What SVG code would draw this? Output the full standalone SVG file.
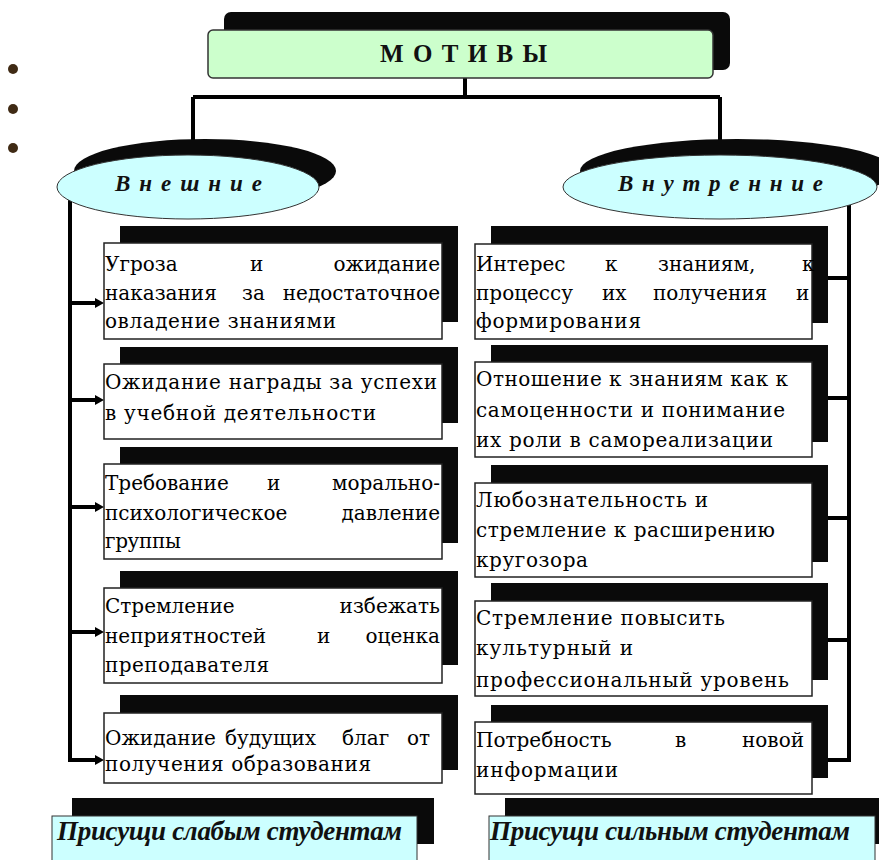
<svg xmlns="http://www.w3.org/2000/svg" width="879" height="860" viewBox="0 0 879 860">
<defs>
<marker id="arr" markerUnits="userSpaceOnUse" markerWidth="10" markerHeight="10" refX="1" refY="5" orient="auto">
<path d="M0,0 L9,5 L0,10 z" fill="#000"/>
</marker>
<style>
.sh{fill:#0a0a0a}
.box{fill:#fff;stroke:#222;stroke-width:1.5}
.ell{fill:#ccffff;stroke:#333;stroke-width:1}
.lbl{fill:#ccffff;stroke:#333;stroke-width:1}
.t{font-family:"DejaVu Serif","Liberation Serif",serif;font-size:20px;fill:#000}
.e{text-anchor:end}
.hd{font-family:"Liberation Serif",serif;font-weight:bold;font-style:italic;fill:#111}
.ti{font-family:"Liberation Serif",serif;font-weight:bold;font-size:25px;fill:#111}
.c{stroke:#000;stroke-width:4;fill:none}
.bul{fill:#3f2a14}
</style>
</defs>
<rect width="879" height="860" fill="#fff"/>

<g id="bullets">
<circle class="bul" cx="13" cy="69" r="5"/>
<circle class="bul" cx="13" cy="109" r="5"/>
<circle class="bul" cx="13" cy="148" r="5"/>
</g>

<g id="connectors">
<path class="c" d="M465,78 V97 M193,97 H720 M193,97 V165 M720,97 V165"/>
<path class="c" d="M70,195 V760 H96"/>
<line class="c" x1="70" y1="303" x2="96" y2="303" marker-end="url(#arr)"/>
<line class="c" x1="70" y1="400" x2="96" y2="400" marker-end="url(#arr)"/>
<line class="c" x1="70" y1="507" x2="96" y2="507" marker-end="url(#arr)"/>
<line class="c" x1="70" y1="632" x2="96" y2="632" marker-end="url(#arr)"/>
<line class="c" x1="92" y1="760" x2="96" y2="760" marker-end="url(#arr)"/>
<path class="c" d="M849,195 V760 H815"/>
<line class="c" x1="849" y1="278" x2="815" y2="278"/>
<line class="c" x1="849" y1="398" x2="815" y2="398"/>
<line class="c" x1="849" y1="518" x2="815" y2="518"/>
<line class="c" x1="849" y1="640" x2="815" y2="640"/>
</g>

<g id="title">
<rect class="sh" x="224" y="12" width="506" height="58" rx="7"/>
<rect x="208" y="30" width="505" height="48" rx="5" fill="#ccffcc" stroke="#333" stroke-width="1.5"/>
<text class="ti" x="380" y="62" textLength="167" lengthAdjust="spacing">МОТИВЫ</text>
</g>

<g id="external">
<ellipse class="sh" cx="205" cy="171" rx="131" ry="32"/>
<ellipse class="ell" cx="188" cy="187" rx="131" ry="32"/>
<text class="hd" x="115" y="191" font-size="23" textLength="147" lengthAdjust="spacing">Внешние</text>
</g>

<g id="internal">
<ellipse class="sh" cx="737" cy="171" rx="157" ry="32"/>
<ellipse class="ell" cx="720" cy="187" rx="157" ry="32"/>
<text class="hd" x="618" y="191" font-size="23" textLength="205" lengthAdjust="spacing">Внутренние</text>
</g>

<g id="ext1">
<rect class="sh" x="120" y="226" width="338" height="96"/>
<rect class="box" x="104" y="243" width="338" height="96"/>
<text class="t" y="271"><tspan x="105">Угроза</tspan><tspan x="250">и</tspan><tspan x="440" class="e">ожидание</tspan></text>
<text class="t" y="300"><tspan x="105">наказания</tspan><tspan x="242">за</tspan><tspan x="440" class="e">недостаточное</tspan></text>
<text class="t" x="105" y="328" textLength="231" lengthAdjust="spacing">овладение знаниями</text>
</g>

<g id="ext2">
<rect class="sh" x="120" y="347" width="338" height="76"/>
<rect class="box" x="104" y="364" width="338" height="75"/>
<text class="t" x="105" y="389" textLength="332" lengthAdjust="spacing">Ожидание награды за успехи</text>
<text class="t" x="105" y="420" textLength="271" lengthAdjust="spacing">в учебной деятельности</text>
</g>

<g id="ext3">
<rect class="sh" x="120" y="447" width="338" height="96"/>
<rect class="box" x="104" y="464" width="338" height="95"/>
<text class="t" y="490"><tspan x="105">Требование</tspan><tspan x="267">и</tspan><tspan x="440" class="e">морально-</tspan></text>
<text class="t" y="520"><tspan x="105">психологическое</tspan><tspan x="440" class="e">давление</tspan></text>
<text class="t" x="105" y="548" textLength="76" lengthAdjust="spacing">группы</text>
</g>

<g id="ext4">
<rect class="sh" x="120" y="571" width="338" height="94"/>
<rect class="box" x="104" y="588" width="338" height="95"/>
<text class="t" y="613"><tspan x="105">Стремление</tspan><tspan x="440" class="e">избежать</tspan></text>
<text class="t" y="643"><tspan x="105">неприятностей</tspan><tspan x="317">и</tspan><tspan x="440" class="e">оценка</tspan></text>
<text class="t" x="105" y="672" textLength="164" lengthAdjust="spacing">преподавателя</text>
</g>

<g id="ext5">
<rect class="sh" x="120" y="695" width="338" height="75"/>
<rect class="box" x="104" y="713" width="338" height="70"/>
<text class="t" y="745"><tspan x="105">Ожидание</tspan><tspan x="225">будущих</tspan><tspan x="342">благ</tspan><tspan x="430" class="e">от</tspan></text>
<text class="t" x="105" y="771" textLength="266" lengthAdjust="spacing">получения образования</text>
</g>

<g id="int1">
<rect class="sh" x="491" y="226" width="337" height="97"/>
<rect class="box" x="475" y="244" width="337" height="95"/>
<text class="t" y="271"><tspan x="476">Интерес</tspan><tspan x="605">к</tspan><tspan x="658">знаниям,</tspan><tspan x="802">к</tspan></text>
<text class="t" y="300"><tspan x="476">процессу</tspan><tspan x="602">их</tspan><tspan x="653">получения</tspan><tspan x="796">и</tspan></text>
<text class="t" x="476" y="328" textLength="165" lengthAdjust="spacing">формирования</text>
</g>

<g id="int2">
<rect class="sh" x="491" y="345" width="337" height="97"/>
<rect class="box" x="475" y="362" width="337" height="95"/>
<text class="t" x="476" y="386" textLength="312" lengthAdjust="spacing">Отношение к знаниям как к</text>
<text class="t" x="476" y="417" textLength="309" lengthAdjust="spacing">самоценности и понимание</text>
<text class="t" x="476" y="447" textLength="297" lengthAdjust="spacing">их роли в самореализации</text>
</g>

<g id="int3">
<rect class="sh" x="491" y="465" width="337" height="97"/>
<rect class="box" x="475" y="483" width="337" height="94"/>
<text class="t" x="476" y="507" textLength="232" lengthAdjust="spacing">Любознательность и</text>
<text class="t" x="476" y="537" textLength="299" lengthAdjust="spacing">стремление к расширению</text>
<text class="t" x="476" y="567" textLength="112" lengthAdjust="spacing">кругозора</text>
</g>

<g id="int4">
<rect class="sh" x="491" y="583" width="337" height="97"/>
<rect class="box" x="475" y="601" width="337" height="95"/>
<text class="t" x="476" y="625" textLength="249" lengthAdjust="spacing">Стремление повысить</text>
<text class="t" x="476" y="655" textLength="157" lengthAdjust="spacing">культурный и</text>
<text class="t" x="476" y="687" textLength="313" lengthAdjust="spacing">профессиональный уровень</text>
</g>

<g id="int5">
<rect class="sh" x="491" y="705" width="337" height="73"/>
<rect class="box" x="475" y="722" width="337" height="72"/>
<text class="t" y="747"><tspan x="476">Потребность</tspan><tspan x="675">в</tspan><tspan x="742">новой</tspan></text>
<text class="t" x="476" y="777" textLength="142" lengthAdjust="spacing">информации</text>
</g>

<g id="weak">
<rect class="sh" x="72" y="798" width="362" height="46"/>
<rect class="lbl" x="52" y="816" width="365" height="50"/>
<text class="hd" x="57" y="840" font-size="27" textLength="345" lengthAdjust="spacing">Присущи слабым студентам</text>
</g>

<g id="strong">
<rect class="sh" x="505" y="798" width="380" height="46"/>
<rect class="lbl" x="489" y="816" width="386" height="50"/>
<text class="hd" x="490" y="840" font-size="27" textLength="360" lengthAdjust="spacing">Присущи сильным студентам</text>
</g>
</svg>
